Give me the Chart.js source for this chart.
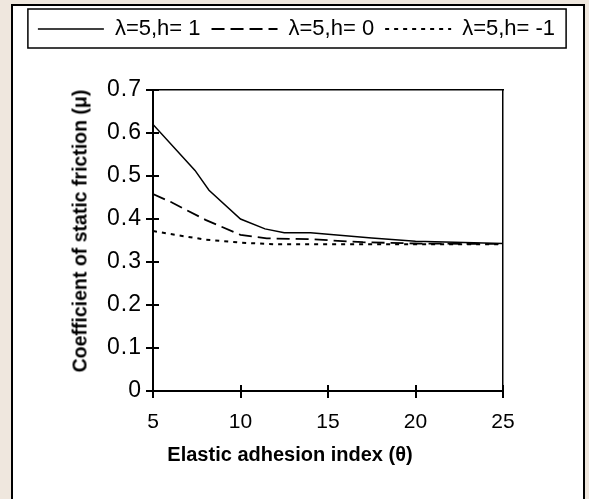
<!DOCTYPE html>
<html><head><meta charset="utf-8">
<script src="https://cdn.jsdelivr.net/npm/chart.js@4"></script>
<style>
html,body{margin:0;padding:0;width:589px;height:499px;overflow:hidden;background:#efe7de;}
#frame{position:absolute;left:11px;top:4px;width:574px;height:520px;background:#fff;border:2px solid #000;box-sizing:border-box;}
#wrap{position:absolute;left:0;top:0;width:589px;height:499px;}
.yt{position:absolute;font:bold 19.5px "Liberation Sans",Arial,sans-serif;white-space:nowrap;left:80px;top:231px;transform:translate(-50%,-50%) rotate(-90deg);color:#000;}
.xt{position:absolute;font:bold 20px "Liberation Sans",Arial,sans-serif;white-space:nowrap;left:290px;top:454px;transform:translate(-50%,-50%);color:#000;}
</style></head>
<body>
<div id="frame"></div>
<div id="wrap"><canvas id="c" width="589" height="499"></canvas></div>
<div class="yt">Coefficient of static friction (μ)</div>
<div class="xt">Elastic adhesion index (θ)</div>
<script>
const seriesNames = ['λ=5,h= 1', 'λ=5,h= 0', 'λ=5,h= -1'];
const xSolid  = [5, 7.4, 8.2, 10, 11.4, 12.5, 14, 17.5, 20, 25];
const ySolid  = [0.62, 0.513, 0.467, 0.40, 0.377, 0.368, 0.368, 0.356, 0.348, 0.343];
const xDashed = [5, 6, 8, 10, 11.5, 14, 17, 20, 25];
const yDashed = [0.458, 0.44, 0.398, 0.363, 0.355, 0.353, 0.346, 0.343, 0.342];
const xDotted = [5, 6, 8, 10, 12, 15, 20, 25];
const yDotted = [0.372, 0.365, 0.352, 0.345, 0.341, 0.341, 0.341, 0.341];
const xTicks = [5, 10, 15, 20, 25];
const yTicks = [0, 0.1, 0.2, 0.3, 0.4, 0.5, 0.6, 0.7];
const yTickLabels = ['0', '0.1', '0.2', '0.3', '0.4', '0.5', '0.6', '0.7'];

const pts = (xs, ys) => xs.map((x, i) => ({x: x, y: ys[i]}));
const FONT = '"Liberation Sans", Arial, sans-serif';

const legendBorder = {
  id: 'legendBorder',
  afterDraw(chart) {
    const hb = chart.legend.legendHitBoxes;
    if (!hb || !hb.length) return;
    const ctx = chart.ctx;
    const last = hb[hb.length - 1];
    const l = hb[0].left - 10, r = last.left + last.width + 11;
    const t = hb[0].top - 9, b = hb[0].top + hb[0].height + 8;
    ctx.save();
    ctx.strokeStyle = '#000'; ctx.lineWidth = 1.5;
    ctx.strokeRect(l, t, r - l, b - t);
    ctx.restore();
  }
};
const innerTicks = {
  id: 'innerTicks',
  afterDatasetsDraw(chart) {
    const ctx = chart.ctx, a = chart.chartArea;
    const xs = chart.scales.x, ys = chart.scales.y;
    ctx.save();
    ctx.strokeStyle = '#000'; ctx.lineWidth = 2;
    ctx.beginPath();
    ys.ticks.forEach(t => { if (t.value > 0) { const p = Math.round(ys.getPixelForValue(t.value)); ctx.moveTo(a.left, p); ctx.lineTo(a.left + 6, p); } });
    xs.ticks.forEach(t => { if (t.value > xs.min) { const p = Math.round(xs.getPixelForValue(t.value)); ctx.moveTo(p, a.bottom); ctx.lineTo(p, a.bottom - 6); } });
    ctx.stroke();
    ctx.restore();
  }
};
// slightly wider spacing of the y tick labels, as in the reference
const spacedYLabels = {
  id: 'spacedYLabels',
  afterLayout(chart) {
    const s = chart.scales.y;
    if (s._spaced) return;
    const orig = s.drawLabels.bind(s);
    s.drawLabels = function (ca) {
      const ctx = chart.ctx;
      ctx.save();
      ctx.letterSpacing = '1px';
      orig(ca);
      ctx.restore();
    };
    s._spaced = true;
  }
};

new Chart(document.getElementById('c'), {
  type: 'line',
  data: {
    datasets: [
      {label: seriesNames[0], data: pts(xSolid, ySolid), borderColor: '#000', borderWidth: 1.5, borderDash: [], pointRadius: 0, pointStyle: 'line', tension: 0, fill: false},
      {label: seriesNames[1], data: pts(xDashed, yDashed), borderColor: '#000', borderWidth: 1.8, borderDash: [13, 6], pointRadius: 0, pointStyle: 'line', tension: 0, fill: false},
      {label: seriesNames[2], data: pts(xDotted, yDotted), borderColor: '#000', borderWidth: 2, borderDash: [4, 5], pointRadius: 0, pointStyle: 'line', tension: 0, fill: false}
    ]
  },
  options: {
    responsive: false,
    animation: false,
    devicePixelRatio: 1,
    layout: {padding: {left: 4, right: 0, top: 7, bottom: 0}},
    plugins: {
      tooltip: {enabled: false},
      legend: {
        position: 'top',
        labels: {
          usePointStyle: true,
          pointStyle: 'line',
          pointStyleWidth: 66,
          padding: 11,
          color: '#000',
          font: {family: FONT, size: 22},
          generateLabels(chart) {
            const items = Chart.defaults.plugins.legend.labels.generateLabels(chart);
            return items.map(it => {
              const ds = chart.data.datasets[it.datasetIndex];
              it.lineDash = ds.borderDash; it.lineWidth = ds.borderWidth;
              it.strokeStyle = '#000'; it.fillStyle = '#000';
              return it;
            });
          }
        }
      }
    },
    scales: {
      x: {
        type: 'linear', position: 'bottom', min: 5, max: 25,
        afterBuildTicks: s => { s.ticks = xTicks.map(v => ({value: v})); },
        ticks: {color: '#000', font: {family: FONT, size: 21}, padding: 12, maxRotation: 0, autoSkip: false, callback: v => String(v)},
        grid: {drawOnChartArea: false, tickLength: 7, color: '#000', lineWidth: 2},
        border: {color: '#000', width: 2},
        afterFit: s => { s.height = 108; }
      },
      y: {
        type: 'linear', position: 'left', min: 0, max: 0.7,
        afterBuildTicks: s => { s.ticks = yTicks.map(v => ({value: v})); },
        ticks: {color: '#000', font: {family: FONT, size: 23}, padding: 4, autoSkip: false, callback: v => yTickLabels[yTicks.findIndex(t => Math.abs(t - v) < 1e-9)]},
        grid: {drawOnChartArea: false, tickLength: 7, color: '#000', lineWidth: 2},
        border: {color: '#000', width: 2},
        afterFit: s => { s.width = 149; }
      },
      x2: {
        type: 'linear', position: 'top', min: 5, max: 25,
        ticks: {display: false}, grid: {display: false},
        border: {color: '#000', width: 1.5},
        afterFit: s => { s.height = 40; }
      },
      y2: {
        type: 'linear', position: 'right', min: 0, max: 0.7,
        ticks: {display: false}, grid: {display: false},
        border: {color: '#000', width: 1.5},
        afterFit: s => { s.width = 86; }
      }
    }
  },
  plugins: [legendBorder, innerTicks, spacedYLabels]
});
</script>
</body></html>
